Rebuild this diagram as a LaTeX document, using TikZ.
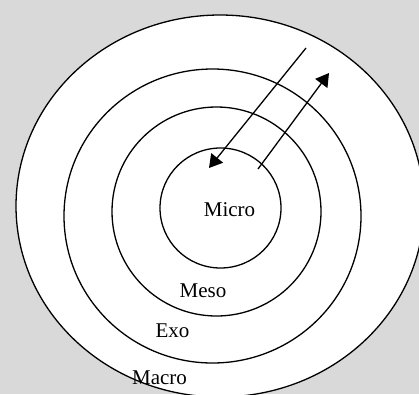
\documentclass[tikz,border=0pt]{standalone}
\usepackage{fontspec}
\setmainfont{Liberation Serif}
\usetikzlibrary{arrows.meta}
\begin{document}
\begin{tikzpicture}[x=1pt, y=-1pt,
        ring/.style={draw, line width=1.3pt, fill=white},
        lbl/.style={anchor=base, inner sep=0pt, font=\fontsize{21}{25}\selectfont},
        flow/.style={line width=1.3pt, -{Triangle[length=13pt, width=15pt]}}
    ]
        \fill[black!15] (0,0) rectangle (419,394);
        \useasboundingbox (0,0) rectangle (419,394);
        \clip (0,0) rectangle (419,394);

        % rings, outside in
        \draw[ring] (220,206) ellipse [x radius=204pt, y radius=191pt];
        \draw[ring] (212.5,216) ellipse [x radius=148.5pt, y radius=147pt];
        \draw[ring] (216.5,211.5) ellipse [x radius=104.5pt, y radius=104.5pt];
        \draw[ring] (220.5,208) ellipse [x radius=60.5pt, y radius=60pt];

        \node[lbl] (micro) at (229.5,216.7) {Micro};
        \node[lbl] (meso)  at (203,297)     {Meso};
        \node[lbl] (exo)   at (172.5,337)   {Exo};
        \node[lbl] (macro) at (159.5,384)   {Macro};

        \coordinate (in1)  at (306,48);
        \coordinate (in2)  at (209,168);
        \coordinate (out1) at (258,169);
        \coordinate (out2) at (329,73);
        \draw[flow] (in1)  -- (in2);
        \draw[flow] (out1) -- (out2);
    \end{tikzpicture}
\end{document}
